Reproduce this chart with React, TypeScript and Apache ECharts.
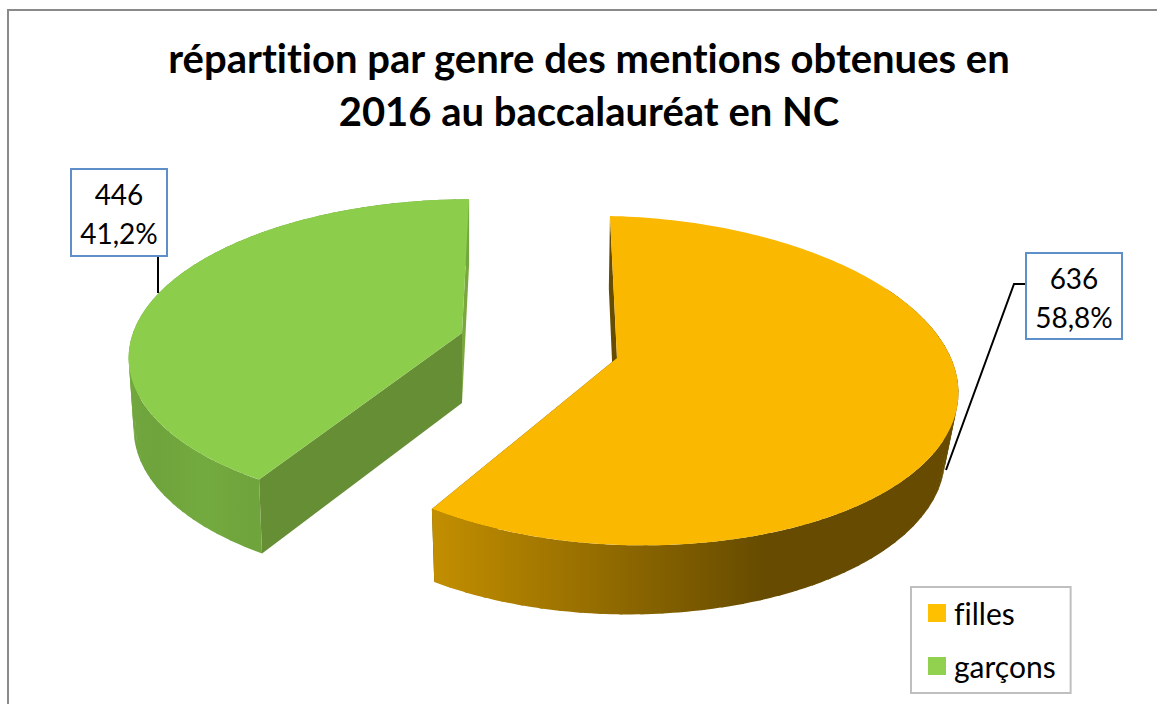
import React, { useEffect, useRef } from "react";
import * as echarts from "echarts";

const titleLines = ["répartition par genre des mentions obtenues en", "2016 au baccalauréat en NC"];
const categories = ["filles", "garçons"];
const counts = [636, 446];

const legendColors = ["#FFC000", "#92D050"];
const topColors = [[251, 184, 0], [140, 206, 76]];
const FONT = "Lato, Carlito, 'Open Sans', sans-serif";

const total = counts.reduce((a, b) => a + b, 0);

const slices = [
  {
    top: { cx: 617, cy: 358, A: 337, AL: 325, B: 161.5, S: -8, T: 8 },
    bot: { cx: 615, cy: 429, A: 326, AL: 316, B: 160, S: -7, T: 2 },
    backFace: "#664C00",
    frontFace: "#664C00",
    rimFrom: Math.PI / 3,
    shade: (u: number) => (u > 0.45 ? 0.405 : u < -0.55 ? 0.77 : 0.77 - (u + 0.55) * 0.365),
    box: { x: 1026, y: 253, width: 96, height: 86 },
    leader: [[1026, 284], [1014, 284], [946, 470]],
  },
  {
    top: { cx: 462, cy: 333, A: 329, AL: 329, B: 152, S: 8, T: 0 },
    bot: { cx: 462, cy: 403, A: 324, AL: 324, B: 156, S: 8, T: 0 },
    backFace: "#7AA83F",
    frontFace: "#668E34",
    rimFrom: 0,
    shade: (u: number) => 0.81 + 0.014 * Math.sin(u * 22),
    box: { x: 71, y: 169, width: 96, height: 87 },
    leader: [[158, 256], [158, 293]],
  },
];

const K = 0.137;

function project(g: any, theta: number) {
  const u = Math.sin(theta);
  const v = Math.cos(theta);
  const w = 1 + K * v;
  const a = u < 0 ? g.AL : g.A;
  return [g.cx + (a * u) / w + (g.S * v) / w, g.cy - (g.B * v) / w + (g.T * u) / w];
}

function arc(g: any, a0: number, a1: number, n = 180) {
  const pts: number[][] = [];
  for (let i = 0; i <= n; i++) pts.push(project(g, a0 + ((a1 - a0) * i) / n));
  return pts;
}

function rimFill(s: any, base: number[]) {
  const x0 = s.top.cx - s.top.AL;
  const x1 = s.top.cx + s.top.A;
  const stops = [];
  const n = 60;
  for (let i = 0; i <= n; i++) {
    const x = x0 + ((x1 - x0) * i) / n;
    const u = (x - s.top.cx) / (x < s.top.cx ? s.top.AL : s.top.A);
    const f = s.shade(u);
    stops.push({ offset: i / n, color: `rgb(${base.map((c) => Math.round(c * f)).join(",")})` });
  }
  return new echarts.graphic.LinearGradient(x0, 0, x1, 0, stops, true);
}

function makeRender(index: number) {
  return (_params: any, api: any) => {
    const value = api.value(0);
    const before = api.value(1);
    const a0 = (before / total) * Math.PI * 2;
    const a1 = ((before + value) / total) * Math.PI * 2;
    const s = slices[index];
    const base = topColors[index];
    const children: any[] = [];
    const poly = (points: number[][], fill: any) => ({
      type: "polygon",
      shape: { points },
      style: { fill },
    });
    const cTop = [s.top.cx, s.top.cy];
    const cBot = [s.bot.cx, s.bot.cy];
    children.push(poly([project(s.top, a0), cTop, cBot, project(s.bot, a0)], index === 0 ? s.backFace : s.frontFace));
    children.push(poly([project(s.top, a1), cTop, cBot, project(s.bot, a1)], index === 0 ? s.frontFace : s.backFace));
    const r0 = Math.max(a0, s.rimFrom);
    const fill = rimFill(s, base);
    const pieces = 48;
    const overlap = (0.6 * Math.PI) / 180;
    for (let i = 0; i < pieces; i++) {
      const b0 = r0 + ((a1 - r0) * i) / pieces;
      const b1 = Math.min(a1, r0 + ((a1 - r0) * (i + 1)) / pieces + overlap);
      children.push(poly([...arc(s.top, b0, b1, 4), ...arc(s.bot, b1, b0, 4)], fill));
    }
    children.push(poly([cTop, ...arc(s.top, a0, a1)], `rgb(${base.join(",")})`));
    children.push({
      type: "polyline",
      shape: { points: s.leader },
      style: { stroke: "#000", lineWidth: 2, fill: "none" },
    });
    children.push({
      type: "rect",
      shape: s.box,
      style: { fill: "#fff", stroke: "#5F8FC8", lineWidth: 2 },
    });
    const pct = ((value / total) * 100).toFixed(1).replace(".", ",") + "%";
    [String(value), pct].forEach((t, i) => {
      children.push({
        type: "text",
        style: {
          text: t,
          x: s.box.x + s.box.width / 2,
          y: s.box.y + 25 + i * 39,
          align: "center",
          verticalAlign: "middle",
          font: `28px ${FONT}`,
          fill: "#000",
        },
      });
    });
    return { type: "group", children };
  };
}

export default function App() {
  const ref = useRef<HTMLDivElement>(null);
  useEffect(() => {
    const chart = echarts.init(ref.current!, null, { renderer: "svg" });
    let cum = 0;
    const series = categories.map((name, i) => {
      const d = [counts[i], cum];
      cum += counts[i];
      return {
        type: "custom",
        name,
        coordinateSystem: "none",
        renderItem: makeRender(i),
        data: [d],
        itemStyle: { color: legendColors[i] },
        silent: true,
      };
    });
    chart.setOption({
      animation: false,
      backgroundColor: "#fff",
      title: {
        text: titleLines.join("\n"),
        left: 584,
        top: 26,
        textAlign: "center",
        textStyle: { fontFamily: FONT, fontWeight: "bold", fontSize: 40, lineHeight: 53, color: "#000" },
      },
      legend: {
        data: categories.map((name, i) => ({ name, itemStyle: { color: legendColors[i] } })),
        orient: "vertical",
        left: 911,
        top: 587,
        icon: "rect",
        itemWidth: 18,
        itemHeight: 18,
        itemGap: 23,
        padding: [11, 15, 12, 17],
        borderColor: "#BFBFBF",
        borderWidth: 2,
        backgroundColor: "#fff",
        textStyle: { fontFamily: FONT, fontSize: 30, lineHeight: 30, color: "#000", padding: [0, 0, 0, 3] },
      },
      graphic: [
        {
          type: "rect",
          z: -1,
          shape: { x: 8, y: 10, width: 1300, height: 900 },
          style: { fill: "none", stroke: "#8A8A8A", lineWidth: 2 },
        },
      ],
      series,
    });
    return () => chart.dispose();
  }, []);
  return (
    <div
      ref={ref}
      style={{ position: "fixed", left: 0, top: 0, width: 1157, height: 704, fontVariantLigatures: "none" }}
    />
  );
}
